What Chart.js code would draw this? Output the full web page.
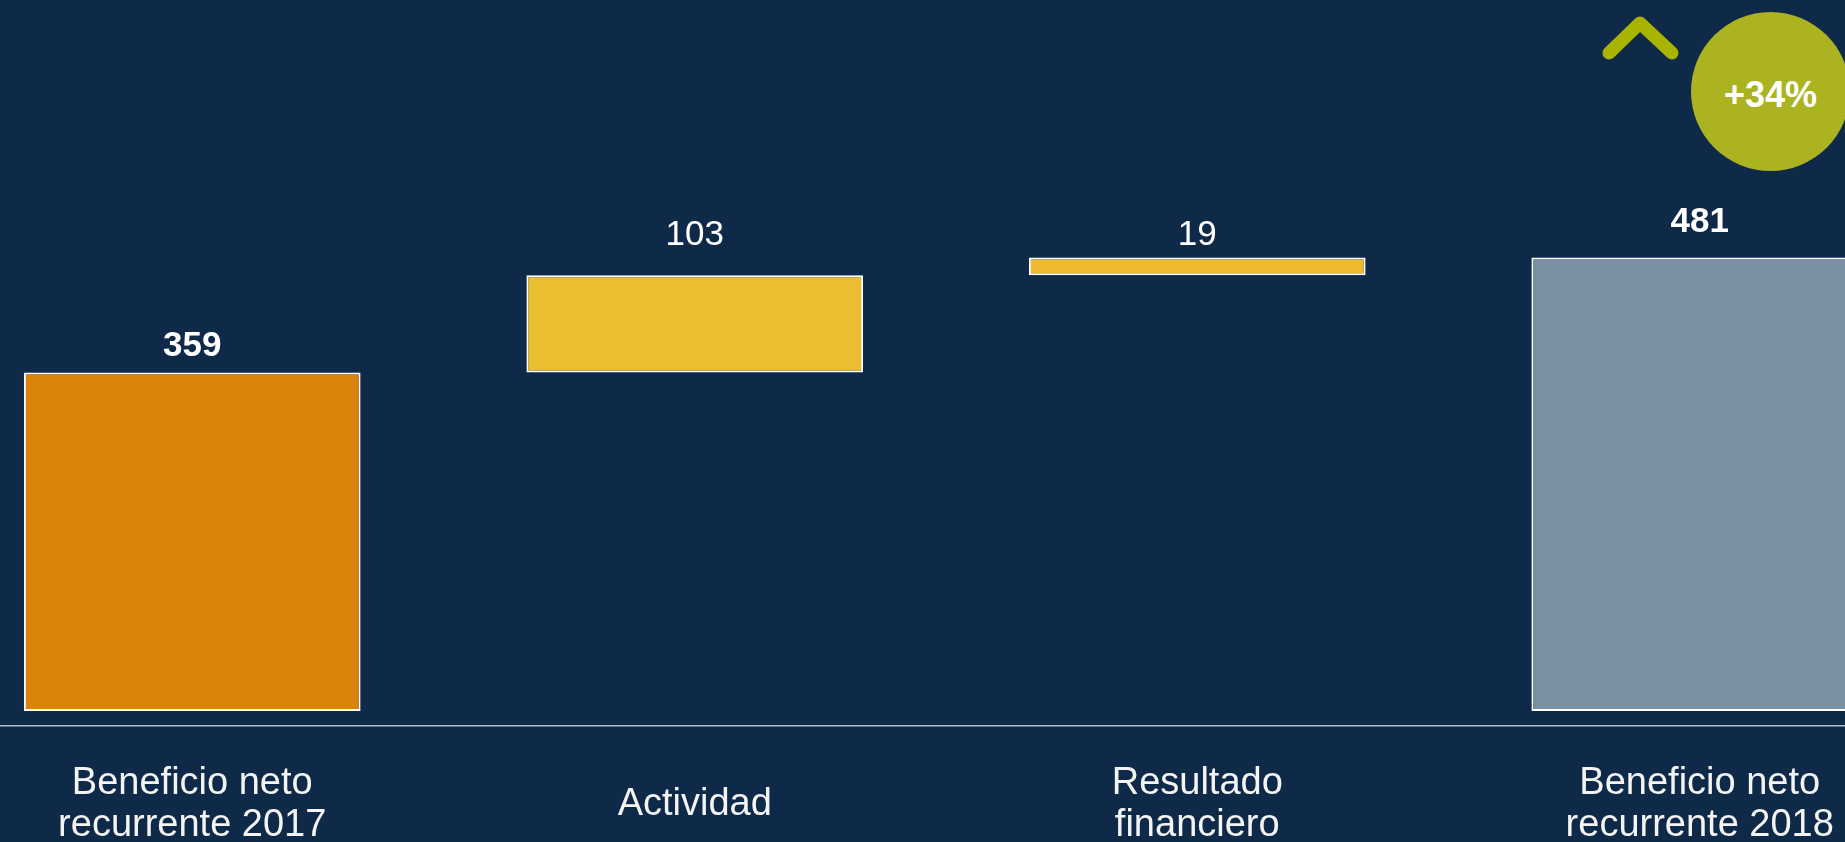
<!DOCTYPE html>
<html lang="es">
<head>
<meta charset="utf-8">
<title>Beneficio neto recurrente</title>
<script src="https://cdn.jsdelivr.net/npm/chart.js@4.4.0/dist/chart.umd.min.js"></script>
<style>
  html, body {
    margin: 0;
    padding: 0;
    width: 1845px;
    height: 842px;
    overflow: hidden;
    background: #0f2a48;
    font-family: "Liberation Sans", Arial, sans-serif;
  }
  .chart-wrap {
    position: absolute;
    left: -59px;
    top: 0;
    width: 2010px;
    height: 842px;
  }
  .badge {
    position: absolute;
    left: 1691px;
    top: 12px;
    width: 159px;
    height: 159px;
    border-radius: 50%;
    background: #abb321;
    color: #ffffff;
    font-weight: bold;
    font-size: 36px;
    display: flex;
    align-items: center;
    justify-content: center;
    box-sizing: border-box;
    padding-top: 6px;
  }
  .chevron {
    position: absolute;
    left: 1596px;
    top: 9px;
  }
</style>
</head>
<body>
<div class="chart-wrap">
  <canvas id="myChart"></canvas>
</div>
<svg class="chevron" width="94" height="60" viewBox="0 0 94 60">
  <polyline points="13,44 44,14 76,44" fill="none" stroke="#a9b400" stroke-width="13" stroke-linecap="round" stroke-linejoin="round" />
</svg>
<div class="badge">+34%</div>

<script>
// datos del puente de beneficio (millones)
const categorias = [
  ['Beneficio neto', 'recurrente 2017'],
  'Actividad',
  ['Resultado', 'financiero'],
  ['Beneficio neto', 'recurrente 2018'],
];
const valores = [359, 103, 19, 481];
const tipos = ['total', 'delta', 'delta', 'total'];
const etiquetas = ['359', '103', '19', '481'];

const colores = ['#dc8409', '#ebbe31', '#eeb92e', '#7890a0'];
const negritas = [true, false, false, true];
const separacion = [16, 30, 12, 25];

// barras flotantes: totales desde 0, variaciones apiladas sobre el acumulado
let acumulado = 0;
const rangos = valores.map((v, i) => {
  if (tipos[i] === 'total') {
    acumulado = v;
    return [0, v];
  }
  const desde = acumulado;
  acumulado += v;
  return [desde, acumulado];
});

const valueLabels = {
  id: 'valueLabels',
  afterDatasetsDraw(chart) {
    const ctx = chart.ctx;
    const meta = chart.getDatasetMeta(0);
    ctx.save();
    ctx.fillStyle = '#ffffff';
    ctx.textAlign = 'center';
    ctx.textBaseline = 'alphabetic';
    meta.data.forEach((bar, i) => {
      const top = Math.min(bar.y, bar.base);
      ctx.font = (negritas[i] ? 'bold ' : '') + '35px "Liberation Sans", Arial, sans-serif';
      ctx.fillText(etiquetas[i], bar.x, top - separacion[i]);
    });
    ctx.restore();
  },
};

const ctx = document.getElementById('myChart');
new Chart(ctx, {
  type: 'bar',
  data: {
    labels: categorias,
    datasets: [
      {
        data: rangos,
        backgroundColor: colores,
        borderColor: '#ffffff',
        borderWidth: 2,
        borderSkipped: false,
        categoryPercentage: 1,
        barPercentage: 0.67,
      },
    ],
  },
  options: {
    responsive: true,
    maintainAspectRatio: false,
    animation: false,
    layout: { padding: 0 },
    plugins: {
      legend: { display: false },
      tooltip: { enabled: false },
    },
    scales: {
      x: {
        grid: { display: false, drawTicks: false, tickLength: 0 },
        border: { display: true, color: '#b4bec8', width: 1.5 },
        ticks: {
          color: '#f4f4f4',
          font: { family: '"Liberation Sans", Arial, sans-serif', size: 38, lineHeight: 1.09 },
          padding: 58,
          crossAlign: 'center',
          maxRotation: 0,
          minRotation: 0,
          autoSkip: false,
        },
        afterFit(scale) {
          scale.height = 116;
        },
      },
      y: {
        display: false,
        min: -16,
        max: 754,
      },
    },
  },
  plugins: [valueLabels],
});
</script>
</body>
</html>
